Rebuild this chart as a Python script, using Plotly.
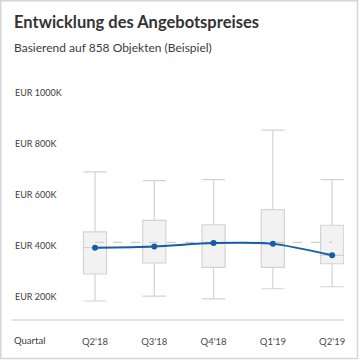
import plotly.graph_objects as go

quarters = ["Q2'18", "Q3'18", "Q4'18", "Q1'19", "Q2'19"]
lower_whisker = [183, 202, 191, 231, 239]
q1_vals = [289, 332, 315, 315, 329]
median_vals = [392, 397, 410, 407, 362]
q3_vals = [454, 499, 482, 541, 480]
upper_whisker = [689, 655, 659, 853, 659]
reference_level = [413, 413, 413, 413, 413]
y_tickvals = [200, 400, 600, 800, 1000]
y_ticktext = ["EUR 200K", "EUR 400K", "EUR 600K", "EUR 800K", "EUR 1000K"]

FONT = "Lato"
W, H = 360, 360
ML, MR, MT, MB = 12, 16, 75, 41
PW, PH = W - ML - MR, H - MT - MB

def px_x(p):
    return (p - ML) / PW

def px_y(p):
    return (H - MB - p) / PH

fig = go.Figure()

fig.add_trace(go.Scatter(
    x=quarters, y=reference_level, mode="lines",
    line=dict(color="#cfcfcf", width=1.3, dash="dash"),
    hoverinfo="skip", showlegend=False,
))

fig.add_trace(go.Box(
    x=quarters, q1=q1_vals, median=median_vals, q3=q3_vals,
    lowerfence=lower_whisker, upperfence=upper_whisker,
    fillcolor="#f2f2f2", line=dict(color="#d3d3d3", width=1.2),
    width=0.39, whiskerwidth=1, boxpoints=False,
    hoverinfo="skip", showlegend=False,
))

fig.add_trace(go.Scatter(
    x=quarters, y=median_vals, mode="lines+markers",
    line=dict(color="#155ea6", width=2, shape="spline", smoothing=0.8),
    marker=dict(color="#155ea6", size=6),
    hoverinfo="skip", showlegend=False,
))

fig.update_layout(
    width=W, height=H,
    margin=dict(l=ML, r=MR, t=MT, b=MB),
    paper_bgcolor="white", plot_bgcolor="white",
    font=dict(family=FONT, color="#3c3c3c"),
    xaxis=dict(
        type="category", range=[-1.40, 4.20], showgrid=False, zeroline=False,
        showline=True, linecolor="#e3e3e3", linewidth=2,
        ticks="outside", ticklen=13, tickcolor="rgba(0,0,0,0)",
        tickfont=dict(size=9.5, color="#4a4a4a", family=FONT),
        fixedrange=True,
    ),
    yaxis=dict(
        range=[112.5, 1069], showgrid=False, zeroline=False, showline=False,
        tickvals=y_tickvals, ticktext=y_ticktext,
        ticklabelposition="inside", ticks="",
        tickfont=dict(size=9, color="#3c3c3c", family=FONT),
        fixedrange=True,
    ),
    annotations=[
        dict(text="<b>Entwicklung des Angebotspreises</b>", xref="paper", yref="paper",
             x=0, y=px_y(22), xanchor="left", yanchor="middle", showarrow=False,
             font=dict(size=16.5, color="#333333", family=FONT)),
        dict(text="Basierend auf 858 Objekten (Beispiel)", xref="paper", yref="paper",
             x=0, y=px_y(47), xanchor="left", yanchor="middle", showarrow=False,
             font=dict(size=12, color="#3c3c3c", family=FONT)),
        dict(text="Quartal", xref="paper", yref="paper",
             x=0, y=px_y(340), xanchor="left", yanchor="middle", showarrow=False,
             font=dict(size=9.5, color="#3c3c3c", family=FONT)),
    ],
    shapes=[
        dict(type="rect", xref="paper", yref="paper",
             x0=px_x(0.75), x1=px_x(357.5), y0=px_y(0.75), y1=px_y(358.5),
             line=dict(color="#d6d6d6", width=1.5), fillcolor="rgba(0,0,0,0)",
             layer="below"),
    ],
)

fig.write_html("out.html", config={"displayModeBar": False},
               post_script="document.body.style.margin='0';")
